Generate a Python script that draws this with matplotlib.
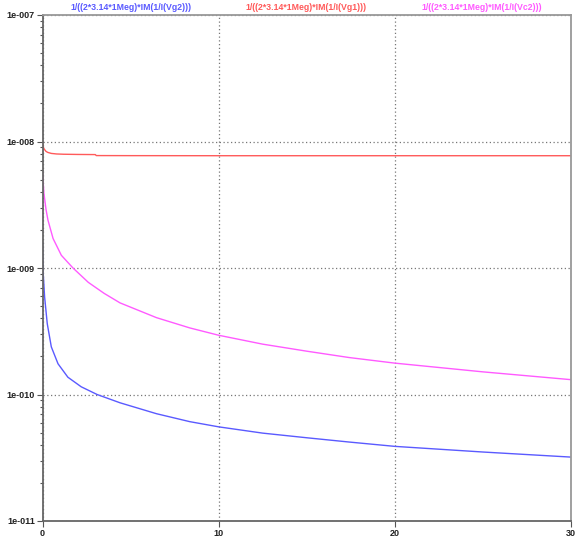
import matplotlib
matplotlib.use("Agg")
import matplotlib.pyplot as plt
from matplotlib.ticker import LogLocator, FixedLocator, NullFormatter

# Data
x_red = [0.0, 0.05, 0.1, 0.2, 0.3, 0.5, 0.8, 1.2, 2.0, 3.0, 3.05, 5.0, 10.0, 15.0, 20.0, 25.0, 30.0]
y_red = [9.6e-9, 9.0e-9, 8.7e-9, 8.35e-9, 8.2e-9, 8.05e-9, 7.97e-9, 7.93e-9, 7.9e-9, 7.88e-9,
         7.74e-9, 7.73e-9, 7.72e-9, 7.72e-9, 7.72e-9, 7.72e-9, 7.72e-9]

x_mag = [0.0, 0.08, 0.2, 0.31, 0.6, 1.07, 1.73, 2.6, 3.5, 4.4, 6.47, 8.36, 10.0, 12.5, 15.0,
         17.4, 20.0, 25.0, 30.0]
y_mag = [5.8e-9, 3.9e-9, 2.9e-9, 2.39e-9, 1.71e-9, 1.26e-9, 1.0e-9, 7.7e-10, 6.3e-10, 5.3e-10,
         4.05e-10, 3.36e-10, 2.94e-10, 2.5e-10, 2.2e-10, 1.96e-10, 1.77e-10, 1.51e-10, 1.31e-10]

x_blue = [0.0, 0.03, 0.12, 0.27, 0.5, 0.88, 1.44, 2.2, 3.1, 4.4, 6.47, 8.36, 10.0, 12.5, 15.0,
          17.4, 20.0, 25.0, 30.0]
y_blue = [1.6e-9, 9.6e-10, 5.9e-10, 3.63e-10, 2.38e-10, 1.75e-10, 1.37e-10, 1.15e-10, 1.0e-10,
          8.6e-11, 7.05e-11, 6.1e-11, 5.55e-11, 4.95e-11, 4.55e-11, 4.21e-11, 3.89e-11, 3.51e-11, 3.2e-11]

titles = ["1/((2*3.14*1Meg)*IM(1/I(Vg2)))", "1/((2*3.14*1Meg)*IM(1/I(Vg1)))", "1/((2*3.14*1Meg)*IM(1/I(Vc2)))"]
x_ticks = [0, 10, 20, 30]
y_ticks = [1e-11, 1e-10, 1e-9, 1e-8, 1e-7]
y_labels = ["1e-011", "1e-010", "1e-009", "1e-008", "1e-007"]

c_blue = "#5a5aff"
c_red = "#ff5a5a"
c_mag = "#ff5aff"

plt.rcParams['font.family'] = ['Liberation Sans', 'DejaVu Sans']

fig = plt.figure(figsize=(5.87, 5.40), dpi=100)
W, H = 587, 540
ax = fig.add_axes([42.5 / W, (H - 521) / H, (571 - 42.5) / W, (521 - 15) / H])

ax.plot(x_blue, y_blue, color=c_blue, lw=1.0)
ax.plot(x_red, y_red, color=c_red, lw=1.0)
ax.plot(x_mag, y_mag, color=c_mag, lw=1.0)

ax.set_yscale('log')
ax.set_xlim(0, 30)
ax.set_ylim(1e-11, 1e-7)

ax.xaxis.set_major_locator(FixedLocator(x_ticks))
ax.set_xticklabels([str(t) for t in x_ticks], fontsize=6.5, fontweight='bold', color='#222222')
ax.yaxis.set_major_locator(FixedLocator(y_ticks))
ax.set_yticklabels(y_labels, fontsize=6.5, fontweight='bold', color='#222222')
ax.yaxis.set_minor_locator(LogLocator(base=10, subs=range(2, 10)))
ax.yaxis.set_minor_formatter(NullFormatter())

ax.tick_params(axis='both', which='major', length=4, width=0.8, color='#555555', pad=1.5)
ax.tick_params(axis='y', which='minor', length=2.5, width=0.8, color='#555555')

ax.grid(True, which='major', axis='both', linestyle=(0, (1, 2)), color='#777777', linewidth=0.9)

for side in ['left', 'bottom']:
    ax.spines[side].set_color('#666666')
    ax.spines[side].set_linewidth(1.3)
for side in ['top', 'right']:
    ax.spines[side].set_color('#999999')
    ax.spines[side].set_linewidth(1.3)

title_x = [131, 306, 482]
for t, xc, c in zip(titles, title_x, [c_blue, c_red, c_mag]):
    fig.text(xc / W, 1 - 8 / H, t, color=c, fontsize=6.3, fontweight='bold',
             ha='center', va='center')

fig.savefig("out.png", dpi=100)
